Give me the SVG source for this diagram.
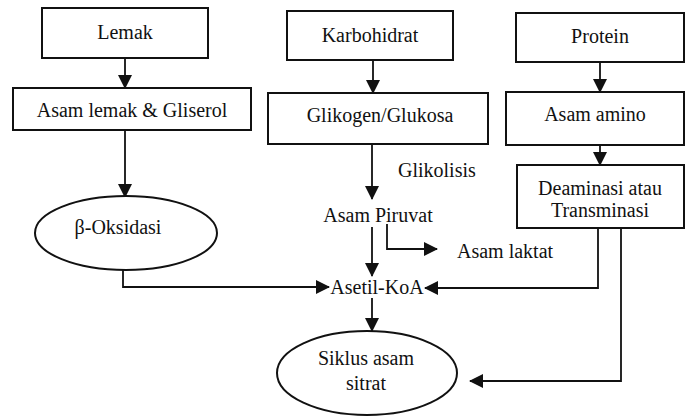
<svg xmlns="http://www.w3.org/2000/svg" width="685" height="419" viewBox="0 0 685 419">
<defs>
<marker id="ah" markerWidth="14" markerHeight="14" refX="13" refY="7" orient="auto" markerUnits="userSpaceOnUse" viewBox="0 0 14 14">
<path d="M0,0 L14,7 L0,14 Z" fill="#111"/>
</marker>
<style>
.box{fill:#fff;stroke:#111;stroke-width:2}
.ell{fill:#fff;stroke:#111;stroke-width:2}
.t{font-family:"Liberation Serif","Times New Roman",serif;font-size:20px;fill:#111;text-anchor:middle}
.tl{font-family:"Liberation Serif","Times New Roman",serif;font-size:20px;fill:#111}
.c{fill:none;stroke:#111;stroke-width:1.8}
</style>
</defs>
<rect width="685" height="419" fill="#fff"/>
<g id="connectors">
<path class="c" d="M125,58 V88" marker-end="url(#ah)"/>
<path class="c" d="M125,130 V197" marker-end="url(#ah)"/>
<path class="c" d="M373,60 V93" marker-end="url(#ah)"/>
<path class="c" d="M372,144 V199" marker-end="url(#ah)"/>
<path class="c" d="M600,62 V92" marker-end="url(#ah)"/>
<path class="c" d="M600,145 V165" marker-end="url(#ah)"/>
<path class="c" d="M372,227 V276" marker-end="url(#ah)"/>
<path class="c" d="M387,224 V249 H437" marker-end="url(#ah)"/>
<path class="c" d="M372,298 V331" marker-end="url(#ah)"/>
<path class="c" d="M123,270 V287 H329" marker-end="url(#ah)"/>
<path class="c" d="M598,228 V288 H425" marker-end="url(#ah)"/>
<path class="c" d="M621,228 V381 H470" marker-end="url(#ah)"/>
</g>
<g id="lemak"><rect class="box" x="42" y="8" width="166" height="50"/><text class="t" x="125" y="39">Lemak</text></g>
<g id="asam-lemak"><rect class="box" x="13" y="88" width="238" height="42"/><text class="t" x="132" y="117">Asam lemak &amp; Gliserol</text></g>
<g id="karbohidrat"><rect class="box" x="287" y="11" width="166" height="49"/><text class="t" x="370" y="42">Karbohidrat</text></g>
<g id="glikogen"><rect class="box" x="268" y="93" width="220" height="51"/><text class="t" x="380" y="122">Glikogen/Glukosa</text></g>
<g id="protein"><rect class="box" x="516" y="13" width="168" height="49"/><text class="t" x="600" y="43">Protein</text></g>
<g id="asam-amino"><rect class="box" x="506" y="92" width="178" height="53"/><text class="t" x="595" y="121">Asam amino</text></g>
<g id="deaminasi"><rect class="box" x="517" y="165" width="167" height="63"/><text class="t" x="600" y="195">Deaminasi atau</text><text class="t" x="600" y="217">Transminasi</text></g>
<g id="glikolisis"><text class="tl" x="398" y="177">Glikolisis</text></g>
<g id="asam-piruvat"><text class="t" x="378" y="222">Asam Piruvat</text></g>
<g id="asam-laktat"><text class="tl" x="457" y="258">Asam laktat</text></g>
<g id="asetil-koa"><text class="t" x="377" y="294">Asetil-KoA</text></g>
<g id="b-oksidasi"><ellipse class="ell" cx="126" cy="233" rx="91" ry="37"/><text class="t" x="118" y="234">β-Oksidasi</text></g>
<g id="siklus"><ellipse class="ell" cx="367" cy="373" rx="90" ry="42"/><text class="t" x="366" y="365">Siklus asam</text><text class="t" x="366" y="390">sitrat</text></g>
</svg>
